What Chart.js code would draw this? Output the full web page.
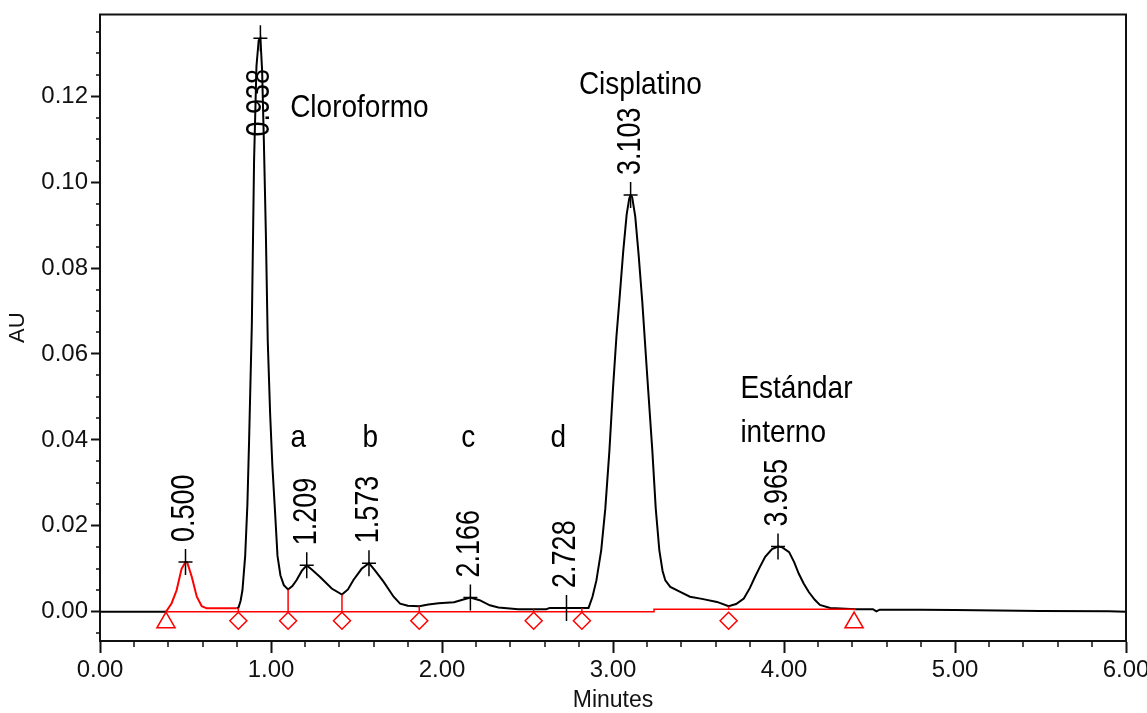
<!DOCTYPE html>
<html>
<head>
<meta charset="utf-8">
<title>Cromatograma</title>
<script src="https://cdn.jsdelivr.net/npm/chart.js@4.4.0/dist/chart.umd.min.js"></script>
<style>
    body { margin: 0; background: #fff; }
    #wrap { width: 1147px; height: 713px; position: relative; }
</style>
</head>
<body>
<div id="wrap"><canvas id="chrom"></canvas></div>
<script>
// black trace before the first red peak
const leadTimes = [0, 0.386];
const leadAU = [0, 0];

// first peak (0.500), drawn red in the original
const redTimes = [0.386, 0.419, 0.448, 0.477, 0.500, 0.510, 0.537, 0.566, 0.595, 0.624, 0.800];
const redAU = [0, 0.0020, 0.0050, 0.0100, 0.0116, 0.0115, 0.0081, 0.0035, 0.0013, 0.0008, 0.0008];

// main trace (minutes, AU)
const traceTimes = [0.800, 0.810, 0.822, 0.833, 0.849, 0.862, 0.872, 0.888, 0.901, 0.915, 0.928, 0.938,
    0.948, 0.958, 0.970, 0.981, 0.995, 1.008, 1.024, 1.038, 1.055, 1.075, 1.100, 1.125, 1.150, 1.180,
    1.209, 1.240, 1.287, 1.355, 1.415, 1.450, 1.482, 1.530, 1.573, 1.610, 1.658, 1.717, 1.755, 1.800,
    1.867, 1.920, 1.980, 2.070, 2.120, 2.166, 2.220, 2.280, 2.330, 2.446, 2.610, 2.630, 2.728, 2.857,
    2.880, 2.903, 2.931, 2.955, 2.979, 3.000, 3.020, 3.037, 3.060, 3.080, 3.095, 3.103, 3.112, 3.130,
    3.150, 3.171, 3.200, 3.230, 3.250, 3.271, 3.290, 3.306, 3.335, 3.390, 3.450, 3.520, 3.608, 3.676,
    3.720, 3.765, 3.800, 3.830, 3.860, 3.890, 3.930, 3.965, 3.990, 4.030, 4.060, 4.086, 4.115, 4.145,
    4.180, 4.210, 4.270, 4.420, 4.520, 4.540, 4.560, 4.800, 5.000, 5.500, 5.900, 6.000];
const traceAU = [0.0008, 0.0010, 0.0025, 0.0050, 0.0130, 0.0250, 0.0400, 0.0670, 0.1050, 0.1270, 0.1330, 0.1335,
    0.1260, 0.1100, 0.0880, 0.0630, 0.0460, 0.0340, 0.0230, 0.0130, 0.0085, 0.0062, 0.0052, 0.0060, 0.0074, 0.0095,
    0.0108, 0.0098, 0.0081, 0.0054, 0.0040, 0.0052, 0.0074, 0.0100, 0.0113, 0.0095, 0.0070, 0.0035, 0.0019, 0.0014,
    0.0013, 0.0017, 0.0020, 0.0022, 0.0028, 0.0033, 0.0027, 0.0015, 0.0010, 0.0006, 0.0006, 0.0009, 0.0009, 0.0009,
    0.0035, 0.0073, 0.0143, 0.0240, 0.0375, 0.0520, 0.0640, 0.0723, 0.0840, 0.0925, 0.0962, 0.0970, 0.0965, 0.0920,
    0.0830, 0.0723, 0.0550, 0.0375, 0.0240, 0.0143, 0.0095, 0.0073, 0.0058, 0.0047, 0.0035, 0.0030, 0.0023, 0.0013,
    0.0018, 0.0031, 0.0055, 0.0081, 0.0105, 0.0128, 0.0146, 0.0152, 0.0150, 0.0139, 0.0115, 0.0089, 0.0066, 0.0046,
    0.0028, 0.0016, 0.0009, 0.0006, 0.0006, 0.0001, 0.0005, 0.0005, 0.0004, 0.0002, 0.0001, 0.0000];

// integration baseline
const baseTimes = [0.386, 3.240, 3.240, 4.420];
const baseAU = [0, 0, 0.0006, 0.0006];

// valley drop lines / diamonds
const valleyTimes = [0.809, 1.100, 1.415, 1.867, 2.536, 2.818, 3.676];
const valleyAU = [0.0008, 0.0052, 0.0040, 0.0013, 0.0006, 0.0009, 0.0013];

// start / end of integration (triangles)
const edgeTimes = [0.386, 4.410];

// detected peaks
const peakTimes = [0.500, 0.938, 1.209, 1.573, 2.166, 2.728, 3.103, 3.965];
const peakAU = [0.0116, 0.1335, 0.0108, 0.0113, 0.0033, 0.0009, 0.0970, 0.0152];

// axis ticks
const xTicks = [0, 1, 2, 3, 4, 5, 6];
const yTicks = [0, 0.02, 0.04, 0.06, 0.08, 0.10, 0.12];

// compound names
const names = ['Cloroformo', 'Cisplatino', 'a', 'b', 'c', 'd', 'Estándar', 'interno'];

const FONT = '"Liberation Sans", Arial, sans-serif';

function pairs(xs, ys) {
    return xs.map((x, i) => ({ x: x, y: ys[i] }));
}

function baselineAt(t) {
    let v = baseAU[0];
    for (let i = 0; i < baseTimes.length; i++) {
        if (t >= baseTimes[i]) v = baseAU[i];
    }
    return v;
}

function dropLines() {
    let pts = [];
    valleyTimes.forEach((t, i) => {
        pts.push({ x: t, y: baselineAt(t) });
        pts.push({ x: t, y: valleyAU[i] });
        pts.push({ x: t, y: null });
    });
    return pts;
}

// box frame + minor ticks
const framePlugin = {
    id: 'frame',
    afterDraw(chart) {
        const ctx = chart.ctx, a = chart.chartArea;
        const xs = chart.scales.x, ys = chart.scales.y;
        ctx.save();
        ctx.strokeStyle = '#111';
        ctx.lineWidth = 2;
        ctx.strokeRect(a.left, a.top, a.right - a.left, a.bottom - a.top);
        ctx.lineWidth = 1.5;
        ctx.beginPath();
        for (let i = 1; i < 30; i++) {
            if (i % 5 === 0) continue;
            const px = Math.round(xs.getPixelForValue(i * 0.2));
            ctx.moveTo(px, a.bottom);
            ctx.lineTo(px, a.bottom + 6);
        }
        for (let j = -1; j < 28; j++) {
            if (j % 4 === 0) continue;
            const py = Math.round(ys.getPixelForValue(j * 0.005));
            if (py < a.top || py > a.bottom) continue;
            ctx.moveTo(a.left, py);
            ctx.lineTo(a.left - 4, py);
        }
        ctx.stroke();
        ctx.restore();
    }
};

// peak retention labels and compound names
const labelPlugin = {
    id: 'peakLabels',
    afterDatasetsDraw(chart, args, opts) {
        const ctx = chart.ctx;
        const xs = chart.scales.x, ys = chart.scales.y;
        ctx.save();
        ctx.fillStyle = '#000';
        ctx.font = '27px ' + FONT;
        peakTimes.forEach((t, i) => {
            const px = xs.getPixelForValue(t);
            let py = ys.getPixelForValue(peakAU[i]) - 20;
            if (opts.raised[i] !== undefined) py = ys.getPixelForValue(opts.raised[i]);
            ctx.save();
            ctx.translate(px, py);
            ctx.rotate(-Math.PI / 2);
            ctx.scale(1, 1.2);
            ctx.textAlign = 'left';
            ctx.textBaseline = 'middle';
            ctx.fillText(t.toFixed(3), 0, 0);
            ctx.restore();
        });
        ctx.font = '28px ' + FONT;
        names.forEach((n, i) => {
            const p = opts.namePos[i];
            const px = xs.getPixelForValue(p[0]);
            const py = ys.getPixelForValue(p[1]);
            ctx.save();
            ctx.translate(px, py);
            ctx.scale(1, 1.15);
            ctx.textAlign = p[2];
            ctx.textBaseline = 'alphabetic';
            ctx.fillText(n, 0, 0);
            ctx.restore();
        });
        ctx.restore();
    }
};

const ctx1 = document.getElementById('chrom').getContext('2d');
const chromChart = new Chart(ctx1, {
    type: 'scatter',
    data: {
        datasets: [
            {
                label: 'peaks-v',
                data: pairs(peakTimes, peakAU),
                pointStyle: 'line',
                rotation: 90,
                pointRadius: 13,
                borderColor: '#000',
                borderWidth: 1.5,
                order: 0
            },
            {
                label: 'peaks-h',
                data: pairs(peakTimes, peakAU),
                pointStyle: 'line',
                pointRadius: 7,
                borderColor: '#000',
                borderWidth: 1.5,
                order: 0
            },
            {
                label: 'valleys',
                data: valleyTimes.map(t => ({ x: t, y: -0.0021 })),
                pointStyle: 'rectRot',
                pointRadius: 8.5,
                backgroundColor: 'rgba(0,0,0,0)',
                borderColor: '#ff0000',
                borderWidth: 1.5,
                order: 1
            },
            {
                label: 'edges',
                data: edgeTimes.map(t => ({ x: t, y: -0.0025 })),
                pointStyle: 'triangle',
                pointRadius: 10.5,
                backgroundColor: 'rgba(0,0,0,0)',
                borderColor: '#ff0000',
                borderWidth: 1.5,
                order: 1
            },
            {
                label: 'drops',
                data: dropLines(),
                showLine: true,
                spanGaps: false,
                pointRadius: 0,
                borderColor: '#ff0000',
                borderWidth: 1.5,
                order: 2
            },
            {
                label: 'baseline',
                data: pairs(baseTimes, baseAU),
                showLine: true,
                pointRadius: 0,
                borderColor: '#ff0000',
                borderWidth: 1.5,
                order: 3
            },
            {
                label: 'red peak',
                data: pairs(redTimes, redAU),
                showLine: true,
                pointRadius: 0,
                borderColor: '#ff0000',
                borderWidth: 2,
                order: 4
            },
            {
                label: 'trace',
                data: pairs(traceTimes, traceAU),
                showLine: true,
                pointRadius: 0,
                borderColor: '#000',
                borderWidth: 2,
                order: 5
            },
            {
                label: 'lead',
                data: pairs(leadTimes, leadAU),
                showLine: true,
                pointRadius: 0,
                borderColor: '#000',
                borderWidth: 2,
                order: 5
            }
        ]
    },
    options: {
        responsive: true,
        maintainAspectRatio: false,
        animation: false,
        devicePixelRatio: 1,
        layout: { padding: { top: 12, right: 21, left: 0, bottom: 0 } },
        elements: { line: { tension: 0 } },
        plugins: {
            legend: { display: false },
            tooltip: { enabled: false },
            peakLabels: {
                raised: { 1: 0.1106 },
                namePos: [
                    [1.112, 0.1151, 'left'],
                    [3.16, 0.1206, 'center'],
                    [1.159, 0.0384, 'center'],
                    [1.58, 0.0384, 'center'],
                    [2.153, 0.0384, 'center'],
                    [2.68, 0.0384, 'center'],
                    [3.745, 0.0498, 'left'],
                    [3.745, 0.0394, 'left']
                ]
            }
        },
        scales: {
            x: {
                type: 'linear',
                min: 0,
                max: 6,
                afterBuildTicks: s => { s.ticks = xTicks.map(v => ({ value: v })); },
                afterFit: s => { s.height = 72; s.paddingLeft = 0; s.paddingRight = 0; },
                ticks: {
                    color: '#111',
                    padding: 3,
                    maxRotation: 0,
                    font: { family: FONT, size: 24 },
                    callback: v => Number(v).toFixed(2)
                },
                grid: { drawOnChartArea: false, tickLength: 12, tickWidth: 2, tickColor: '#111' },
                border: { color: '#111', width: 2 },
                title: {
                    display: true,
                    text: 'Minutes',
                    color: '#111',
                    padding: { top: 0, bottom: 0 },
                    font: { family: FONT, size: 23, lineHeight: 1.1 }
                }
            },
            y: {
                type: 'linear',
                min: -0.0068,
                max: 0.139,
                afterBuildTicks: s => { s.ticks = yTicks.map(v => ({ value: v })); },
                afterFit: s => { s.width = 100; s.paddingTop = 0; s.paddingBottom = 0; },
                ticks: {
                    color: '#111',
                    padding: 3,
                    font: { family: FONT, size: 24 },
                    callback: v => Number(v).toFixed(2)
                },
                grid: { drawOnChartArea: false, tickLength: 9, tickWidth: 2, tickColor: '#111' },
                border: { color: '#111', width: 2 },
                title: {
                    display: true,
                    text: 'AU',
                    color: '#111',
                    padding: { top: 6, bottom: 0 },
                    font: { family: FONT, size: 22, lineHeight: 1.1 }
                }
            }
        }
    },
    plugins: [framePlugin, labelPlugin]
});
</script>
</body>
</html>
